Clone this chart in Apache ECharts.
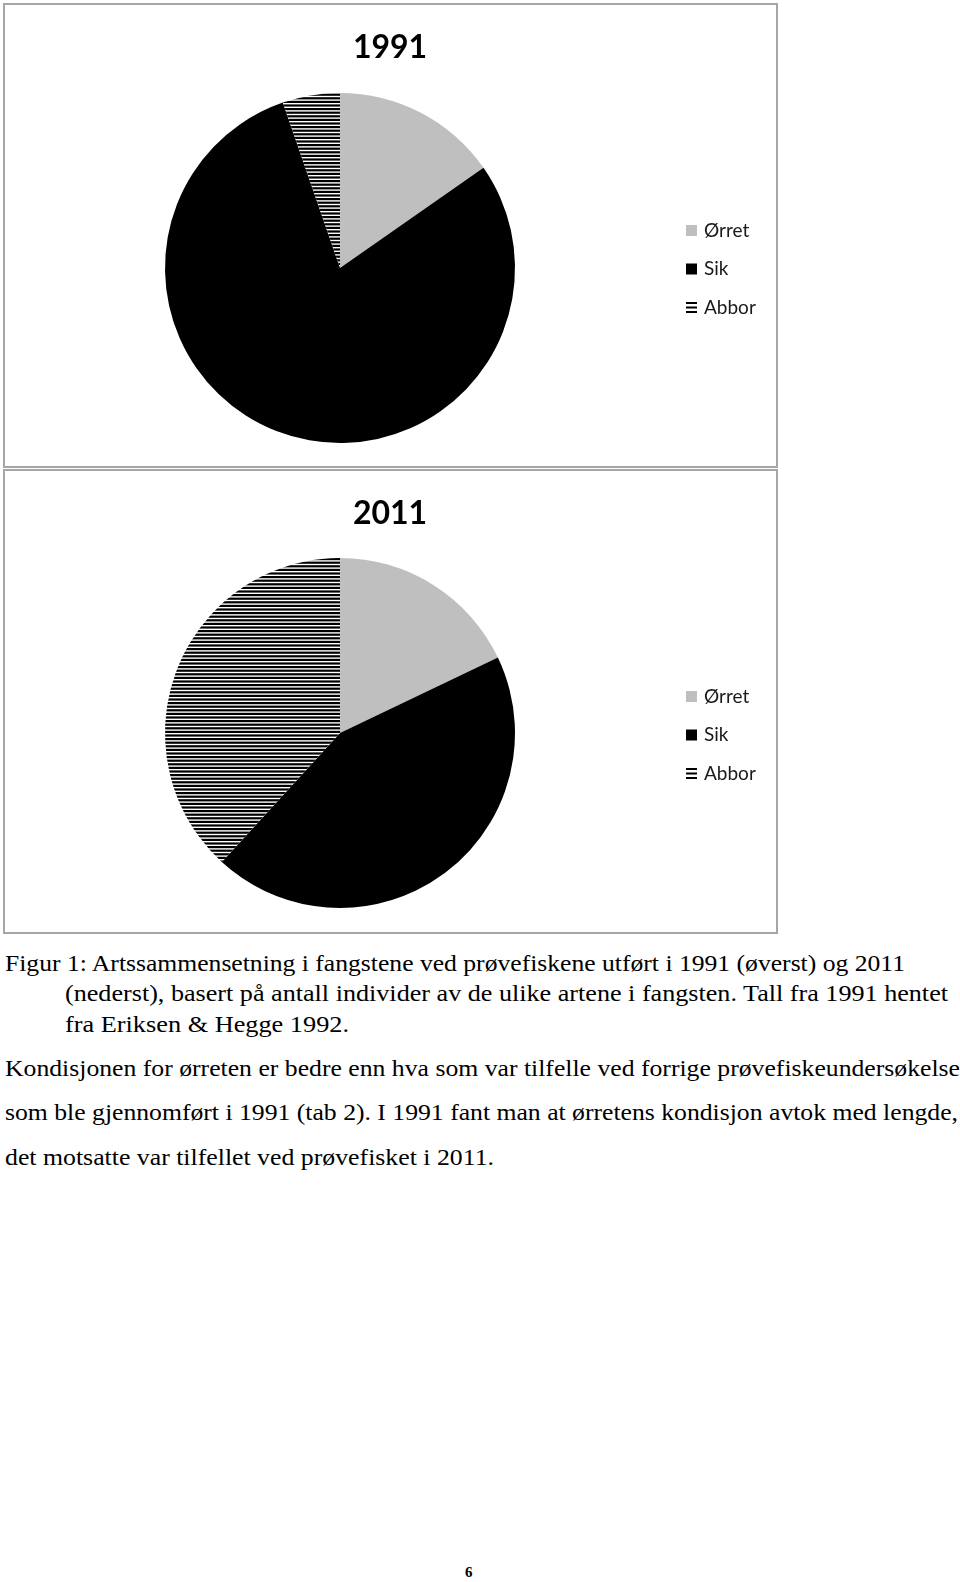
<!DOCTYPE html>
<html>
<head>
<meta charset="utf-8">
<script src="https://cdn.jsdelivr.net/npm/echarts@6/dist/echarts.min.js"></script>
<style>
html,body{margin:0;padding:0;background:#fff;}
body{width:960px;height:1582px;position:relative;overflow:hidden;}
.box{position:absolute;left:3px;width:771px;height:461px;border:2px solid #a6a6a6;}
#chart{position:absolute;left:0;top:0;width:960px;height:940px;}
.ln{position:absolute;white-space:nowrap;font-family:"Liberation Serif","Times New Roman",serif;color:#000;transform-origin:0 50%;line-height:1;}
</style>
</head>
<body>
<div class="box" style="top:3px"></div>
<div class="box" style="top:469px"></div>
<div id="chart"></div>
<div id="text"></div>
<script>
// ---- data ----
const categories = ['Ørret', 'Sik', 'Abbor'];
const values1991 = [15.3, 79.4, 5.3];
const values2011 = [17.9, 43.9, 38.2];
const chartTitles = ['1991', '2011'];
const captionLines = [
  'Figur 1: Artssammensetning i fangstene ved prøvefiskene utført i 1991 (øverst) og 2011',
  '(nederst), basert på antall individer av de ulike artene i fangsten. Tall fra 1991 hentet',
  'fra Eriksen & Hegge 1992.'
];
const paragraphLines = [
  'Kondisjonen for ørreten er bedre enn hva som var tilfelle ved forrige prøvefiskeundersøkelse',
  'som ble gjennomført i 1991 (tab 2). I 1991 fant man at ørretens kondisjon avtok med lengde,',
  'det motsatte var tilfellet ved prøvefisket i 2011.'
];
const pageNumber = '6';

// ---- hatch pattern for Abbor ----
const pc = document.createElement('canvas');
pc.width = 8; pc.height = 18;
const g = pc.getContext('2d');
g.fillStyle = '#fff'; g.fillRect(0, 0, 8, 18);
g.fillStyle = '#000';
for (let i = 0; i < 5; i++) g.fillRect(0, i * 3.6, 8, 2.2);
const hatch = { image: pc, repeat: 'repeat' };
const colors = ['#bfbfbf', '#000000', hatch];

const chart = echarts.init(document.getElementById('chart'), null, { renderer: 'canvas' });
const seriesVals = [values1991, values2011];
const centersY = [268, 733];
const boxOffset = [0, 466];

const legendData = [
  { name: 'Ørret', icon: 'rect' },
  { name: 'Sik', icon: 'rect' },
  { name: 'Abbor', icon: 'path://M0,0H11V2H0Z M0,4.5H11V6.5H0Z M0,9H11V11H0Z', itemStyle: { color: '#000' } }
];

chart.setOption({
  animation: false,
  title: chartTitles.map((t, k) => ({
    text: t, left: 390, top: 32 + boxOffset[k], textAlign: 'center', padding: 0,
    textStyle: { fontFamily: 'Lato', fontWeight: 'bold', fontSize: 32, color: '#000' }
  })),
  legend: [0, 1].map(k => ({
    orient: 'vertical', left: 686, top: 220.5 + boxOffset[k], padding: 0,
    itemWidth: 11, itemHeight: 11, itemGap: 18.5, selectedMode: false,
    textStyle: { fontFamily: 'Lato', fontSize: 19, lineHeight: 20, color: '#1a1a1a', padding: [0, 0, 0, 2] },
    data: legendData
  })),
  series: seriesVals.map((vals, k) => ({
    type: 'pie', center: [340, centersY[k]], radius: 175, startAngle: 90, clockwise: true,
    silent: true, label: { show: false }, labelLine: { show: false },
    itemStyle: { borderWidth: 0 },
    data: categories.map((n, i) => ({ name: n, value: vals[i], itemStyle: { color: colors[i] } }))
  }))
});

// ---- text below the charts ----
const txt = document.getElementById('text');
function addLine(s, x, cy, w, fs, bold) {
  const el = document.createElement('div');
  el.className = 'ln';
  el.textContent = s;
  el.style.fontSize = fs + 'px';
  el.style.left = x + 'px';
  el.style.top = (cy - fs * 0.55) + 'px';
  if (bold) el.style.fontWeight = 'bold';
  if (w) el.dataset.w = w;
  txt.appendChild(el);
  return el;
}
const capX = [5, 65, 65], capY = [965, 995, 1025.5], capW = [900, 883, 284];
captionLines.forEach((s, i) => addLine(s, capX[i], capY[i], capW[i], 23));
const parY = [1070, 1114, 1159], parW = [955, 953, 489];
paragraphLines.forEach((s, i) => addLine(s, 5, parY[i], parW[i], 23));
addLine(pageNumber, 465, 1573, 0, 15, true);

function fit() {
  document.querySelectorAll('.ln').forEach(el => {
    const w = +el.dataset.w;
    if (!w) return;
    el.style.transform = 'none';
    const nat = el.getBoundingClientRect().width;
    el.style.transform = 'scaleX(' + (w / nat) + ')';
  });
}
fit();
if (document.fonts && document.fonts.ready) document.fonts.ready.then(fit);
</script>
</body>
</html>
